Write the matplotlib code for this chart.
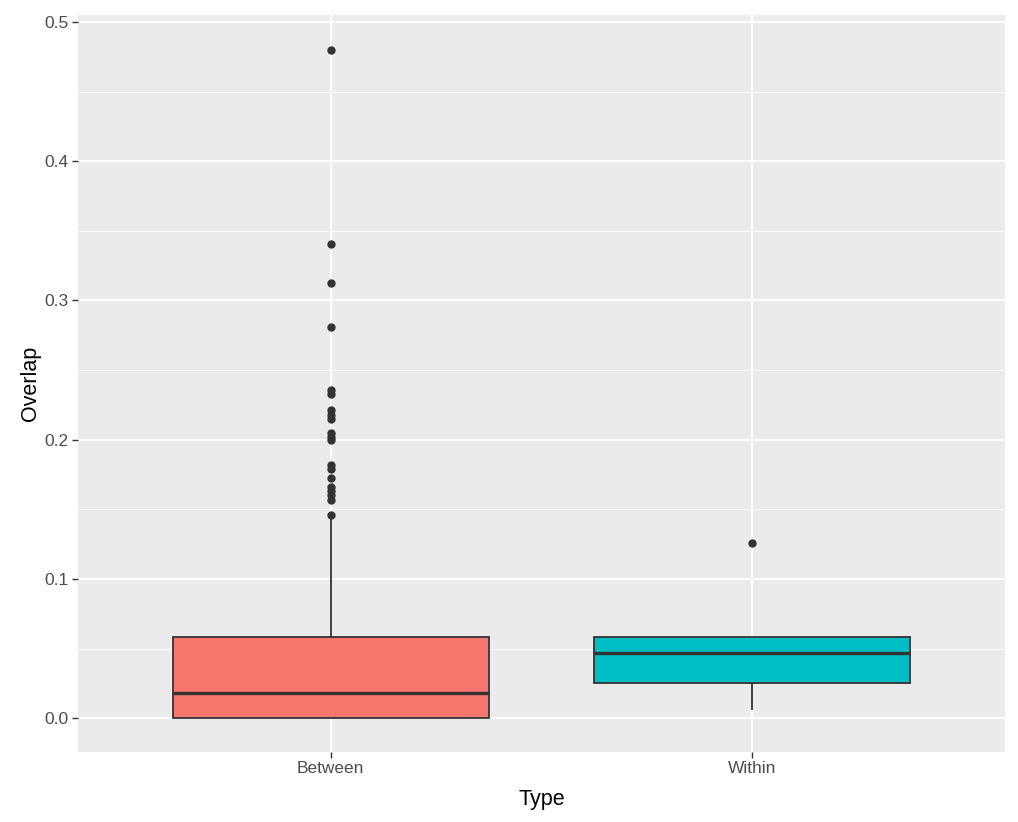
import matplotlib.pyplot as plt
import numpy as np

# values
types = ["Between", "Within"]
fill_colors = ["#F8766D", "#00BFC4"]

q1 = [0.0, 0.0255]
medians = [0.0185, 0.0470]
q3 = [0.0583, 0.0583]
whisker_low = [0.0, 0.0070]
whisker_high = [0.1432, 0.0583]

outliers_between = [
    0.480, 0.3404, 0.3129, 0.2813,
    0.2360, 0.2325, 0.2210, 0.2180, 0.2150,
    0.2050, 0.2020, 0.2000,
    0.1820, 0.1790, 0.1724,
    0.1660, 0.1630, 0.1600, 0.1570,
    0.1459,
]
outliers_within = [0.1258]

plt.rcParams['font.family'] = ['Liberation Sans', 'DejaVu Sans']

fig = plt.figure(figsize=(10.18, 8.22), dpi=100)
ax = fig.add_axes([0.0766, 0.0855, 0.9106, 0.8963])
ax.set_facecolor("#EBEBEB")

stats = []
for i, name in enumerate(types):
    stats.append({
        "label": name,
        "q1": q1[i],
        "med": medians[i],
        "q3": q3[i],
        "whislo": whisker_low[i],
        "whishi": whisker_high[i],
        "fliers": outliers_between if i == 0 else outliers_within,
    })

bp = ax.bxp(
    stats,
    positions=[1, 2],
    widths=0.75,
    patch_artist=True,
    showcaps=False,
    boxprops={"edgecolor": "#333333", "linewidth": 1.3},
    medianprops={"color": "#333333", "linewidth": 2.4},
    whiskerprops={"color": "#333333", "linewidth": 1.3},
    flierprops={"marker": "o", "markerfacecolor": "#333333",
                "markeredgecolor": "#333333", "markersize": 5},
    zorder=3,
)
for patch, color in zip(bp["boxes"], fill_colors):
    patch.set_facecolor(color)

ax.set_xlim(0.4, 2.6)
ax.set_ylim(-0.024, 0.505)
ax.set_yticks([0.0, 0.1, 0.2, 0.3, 0.4, 0.5])
ax.set_yticks([0.05, 0.15, 0.25, 0.35, 0.45], minor=True)
ax.set_yticklabels(["0.0", "0.1", "0.2", "0.3", "0.4", "0.5"])
ax.set_xticks([1, 2])
ax.set_xticklabels(types)

ax.grid(which="major", color="white", linewidth=1.4, zorder=0)
ax.grid(which="minor", axis="y", color="white", linewidth=0.7, zorder=0)
ax.set_axisbelow(True)

for side in ["top", "right", "bottom", "left"]:
    ax.spines[side].set_visible(False)

ax.tick_params(which="major", length=4, width=1, color="#333333",
               labelsize=12.5, labelcolor="#4D4D4D", pad=3)
ax.tick_params(which="minor", length=0)

ax.set_xlabel("Type", fontsize=15.5, color="black", labelpad=9)
ax.set_ylabel("Overlap", fontsize=15.5, color="black", labelpad=2)

fig.savefig("out.png", dpi=100)
